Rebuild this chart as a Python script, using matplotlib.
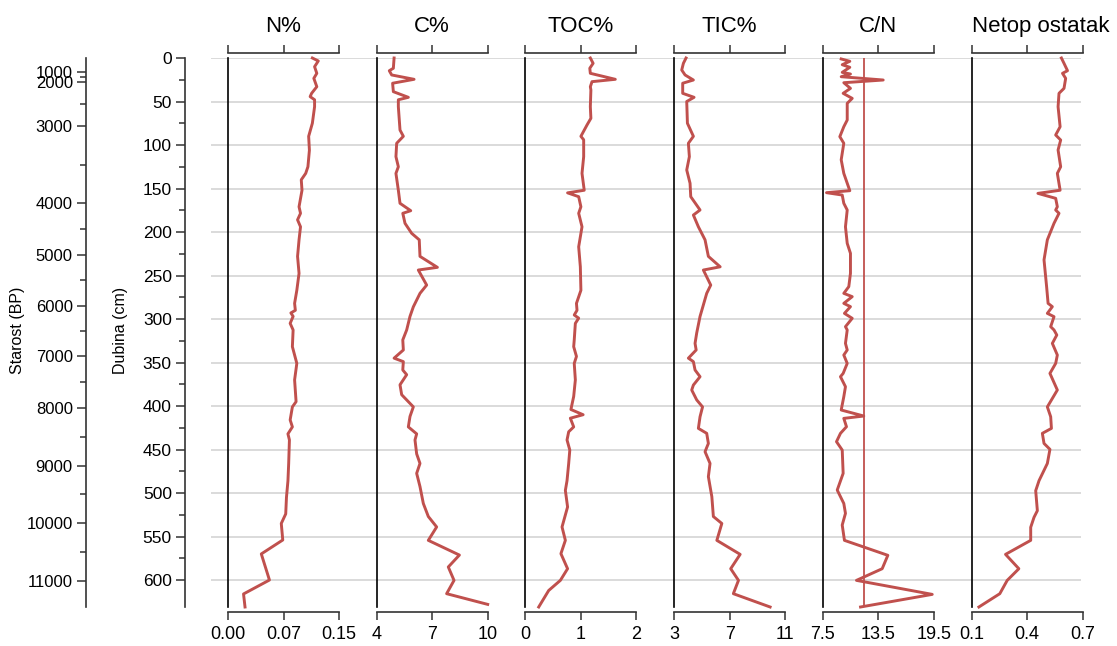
import numpy as np
import matplotlib.pyplot as plt

plt.rcParams['font.family'] = ['Liberation Sans', 'DejaVu Sans']

# ---- data ----
n_depth = [0, 3.4, 10, 17.6, 23.4, 33, 40.6, 44.4, 48, 56, 75, 90, 106, 125, 132.6, 140, 152, 171, 178.5, 186,
           194, 209, 228, 247.5, 267, 282, 290, 293, 297, 305, 312.6, 331.8, 351, 370, 395, 401, 416, 424, 432, 439,
           466, 486, 505, 524, 535, 554, 570, 600, 616, 631]
n_pct = [0.114, 0.122, 0.117, 0.120, 0.116, 0.120, 0.113, 0.111, 0.117, 0.117, 0.114, 0.109, 0.110, 0.108, 0.105,
         0.099, 0.100, 0.096, 0.098, 0.094, 0.098, 0.096, 0.094, 0.096, 0.093, 0.090, 0.091, 0.085, 0.088, 0.084,
         0.088, 0.087, 0.093, 0.090, 0.092, 0.087, 0.084, 0.087, 0.081, 0.083, 0.082, 0.081, 0.079, 0.078, 0.072,
         0.074, 0.045, 0.056, 0.021, 0.023]

c_depth = [0, 11.8, 14.6, 19.5, 24.5, 29, 38.7, 45.2, 48, 56, 82.8, 90, 98, 113.4, 125, 132.6, 152, 167, 175.5, 178.5,
           190, 201.5, 209, 228, 240.6, 243.7, 261, 270.5, 286, 297, 312.6, 324, 335.6, 345, 349, 358.6, 364, 375.6,
           387, 401, 412, 424, 432, 439, 455, 466, 477.4, 492.6, 512, 527, 539, 554.4, 571.3, 585, 600.4, 615.7, 628]
c_pct = [4.94, 4.90, 4.68, 4.81, 6.02, 4.86, 4.90, 5.71, 5.17, 5.17, 5.26, 5.44, 5.08, 5.04, 5.17, 5.04, 5.17, 5.26,
         5.84, 5.41, 5.53, 5.89, 6.30, 6.34, 7.28, 6.25, 6.70, 6.34, 5.98, 5.80, 5.62, 5.41, 5.44, 4.94, 5.44, 5.41,
         5.62, 5.26, 5.35, 5.98, 5.80, 5.71, 6.16, 6.07, 6.16, 6.34, 6.16, 6.34, 6.52, 6.79, 7.24, 6.79, 8.47, 7.87,
         8.18, 7.78, 10.0]

toc_depth = [0, 6.1, 11.8, 17.6, 24.5, 27.2, 33, 36.8, 56, 69.3, 77, 90, 94, 113.4, 132.6, 152, 155, 159.4, 171, 178.5,
             194, 217, 240, 267, 282, 290, 295.4, 299, 305, 324, 331.8, 343, 351, 370, 389, 404, 410, 414, 424, 429.6,
             439, 450.6, 466, 485.8, 497, 516, 539, 554.4, 569.7, 587, 600.4, 612, 631]
toc_pct = [1.17, 1.22, 1.16, 1.17, 1.62, 1.20, 1.17, 1.18, 1.17, 1.18, 1.11, 1.00, 1.05, 1.05, 1.02, 1.06, 0.76, 0.96,
           1.00, 0.96, 1.02, 0.96, 0.99, 1.00, 0.92, 0.93, 0.88, 0.96, 0.90, 0.88, 0.87, 0.92, 0.88, 0.90, 0.87, 0.82,
           1.04, 0.81, 0.87, 0.78, 0.75, 0.80, 0.78, 0.75, 0.72, 0.76, 0.66, 0.72, 0.64, 0.76, 0.63, 0.42, 0.24]

tic_depth = [0, 6.1, 13.8, 19.5, 25.3, 29, 40.6, 45.2, 50, 75, 90, 98, 113.4, 128.7, 144, 159.4, 174.7, 180.5, 194, 209,
             228, 240, 243.7, 261, 270.5, 286, 297, 316, 328, 335.6, 345, 349, 358.6, 366.3, 375.9, 381.6, 393, 401,
             412.3, 425.7, 431.4, 443, 452.5, 466, 481.2, 504.2, 527, 535, 554.4, 570.5, 587, 600.4, 615.7, 631]
tic_pct = [3.86, 3.67, 3.55, 3.79, 4.39, 3.62, 3.62, 4.44, 3.91, 3.96, 4.39, 4.03, 4.10, 3.91, 4.15, 4.20, 4.87, 4.39,
           4.75, 5.23, 5.47, 6.32, 5.11, 5.64, 5.35, 5.07, 4.87, 4.63, 4.51, 4.59, 4.03, 4.39, 4.51, 4.87, 4.39, 4.27,
           4.63, 5.05, 4.87, 4.75, 5.35, 5.47, 5.23, 5.59, 5.47, 5.72, 5.83, 6.44, 6.08, 7.76, 7.08, 7.64, 7.27, 9.92]

cn_depth = [1.1, 3.8, 7.7, 10.7, 16.5, 18.4, 21.5, 25.3, 28.4, 34.9, 40.6, 46.4, 52.1, 71.3, 79, 90.4, 98, 117, 132.6,
            152.5, 154.8, 157.5, 167, 174.7, 194, 213, 224.5, 247.5, 262.8, 270.5, 274.3, 282, 285.8, 293.5, 299.2,
            308.8, 312.6, 328, 335.6, 341.4, 351, 362.5, 366.3, 377.8, 389.3, 404.6, 411.5, 414.2, 423.8, 431.4, 441,
            450.6, 477.4, 496.6, 512, 523.4, 536.8, 554.4, 571.6, 587, 600.4, 616.5, 631]
cn_ratio = [9.49, 10.42, 9.60, 10.42, 9.60, 10.49, 9.49, 14.03, 9.77, 10.49, 9.70, 10.68, 10.14, 10.14, 9.77, 9.34,
            9.77, 9.49, 9.77, 10.42, 7.90, 9.60, 9.77, 10.14, 9.95, 10.14, 10.49, 10.49, 10.31, 9.77, 10.68, 9.77,
            10.49, 9.84, 10.68, 9.95, 10.14, 9.95, 10.14, 9.77, 10.14, 9.70, 9.41, 9.95, 9.77, 9.49, 11.93, 9.77,
            10.06, 9.41, 8.98, 9.60, 9.70, 9.06, 9.77, 9.95, 9.60, 9.84, 14.53, 13.92, 11.14, 19.33, 11.58]
cn_ref = 12.0

res_depth = [0, 6.1, 14.6, 17.6, 23.4, 34.9, 40.6, 56, 79, 88.5, 94.3, 105.7, 125, 132.6, 152, 155.6, 161.3, 171,
             174.7, 178.5, 190, 209, 232, 262.8, 282, 285.8, 293.5, 297.3, 308.8, 312.6, 318.4, 328, 341.4, 351,
             362.5, 381.6, 401, 412.3, 425.7, 431.4, 443, 449.8, 466, 485.8, 497.3, 520.3, 527.9, 539.4, 554.4,
             570.5, 587, 600.4, 615.7, 631]
res_val = [0.586, 0.600, 0.619, 0.592, 0.609, 0.600, 0.573, 0.568, 0.579, 0.555, 0.582, 0.568, 0.582, 0.564, 0.579,
           0.459, 0.555, 0.564, 0.555, 0.573, 0.546, 0.510, 0.492, 0.506, 0.514, 0.537, 0.510, 0.546, 0.528, 0.546,
           0.561, 0.537, 0.564, 0.555, 0.524, 0.564, 0.510, 0.528, 0.532, 0.483, 0.492, 0.524, 0.510, 0.465, 0.447,
           0.456, 0.438, 0.420, 0.420, 0.284, 0.356, 0.293, 0.253, 0.140]

# age-depth model for the Starost axis
age_ticks = [1000, 2000, 3000, 4000, 5000, 6000, 7000, 8000, 9000, 10000, 11000]
age_tick_depth = [16, 28, 78, 167, 226, 285, 343, 402, 469, 534, 601]

panels = [
    ("N%", n_depth, n_pct, (0, 0.15), [0, 0.075, 0.15], ["0.00", "0.07", "0.15"]),
    ("C%", c_depth, c_pct, (4, 10), [4, 7, 10], ["4", "7", "10"]),
    ("TOC%", toc_depth, toc_pct, (0, 2), [0, 1, 2], ["0", "1", "2"]),
    ("TIC%", tic_depth, tic_pct, (3, 11), [3, 7, 11], ["3", "7", "11"]),
    ("C/N", cn_depth, cn_ratio, (7.5, 19.5), [7.5, 13.5, 19.5], ["7.5", "13.5", "19.5"]),
    ("Netop ostatak", res_depth, res_val, (0.1, 0.7), [0.1, 0.4, 0.7], ["0.1", "0.4", "0.7"]),
]

RED = "#c0504d"
DEPTH_MAX = 631
W, H = 1117, 646
top_px, bot_px = 58, 607
y0 = 1 - bot_px / H
h = (bot_px - top_px) / H

fig = plt.figure(figsize=(W / 100, H / 100), dpi=100)

# horizontal grid spanning all panels
bg = fig.add_axes([211 / W, y0, 870 / W, h])
bg.set_ylim(DEPTH_MAX, 0)
bg.set_yticks(np.arange(0, 601, 50))
bg.yaxis.grid(True, color="#d4d4d4", lw=1.2)
bg.tick_params(left=False, labelleft=False, bottom=False, labelbottom=False)
bg.set_xticks([])
for s in bg.spines.values():
    s.set_visible(False)
bg.set_zorder(0)


def side_axis(x_px, labelsize):
    a = fig.add_axes([x_px / W, y0, 0.0005, h])
    a.set_ylim(DEPTH_MAX, 0)
    a.patch.set_visible(False)
    for k in ("right", "top", "bottom"):
        a.spines[k].set_visible(False)
    a.spines["left"].set_linewidth(1.2)
    a.spines["left"].set_color("#333333")
    a.set_xticks([])
    a.tick_params(axis="y", which="major", length=6.5, width=1.1, labelsize=labelsize, pad=3, color="#333333")
    a.tick_params(axis="y", which="minor", length=4.3, width=1.1, color="#333333")
    return a


# depth axis
dax = side_axis(185, 12.5)
dax.set_yticks(np.arange(0, 601, 50))
dax.set_yticks(np.arange(25, 600, 50), minor=True)
fig.text(120 / W, 1 - 330 / H, "Dubina (cm)", rotation=90, ha="center", va="center", fontsize=11.5)

# age axis (non-linear, placed through the age-depth model)
aax = side_axis(86, 12)
aax.set_yticks(age_tick_depth)
aax.set_yticklabels([str(a) for a in age_ticks])
minor_ages = np.arange(1500, 11000, 1000)
aax.set_yticks(np.interp(minor_ages, age_ticks, age_tick_depth), minor=True)
fig.text(18 / W, 1 - 330 / H, "Starost (BP)", rotation=90, ha="center", va="center", fontsize=11.5)

# data panels
for i, (title, depth, vals, lim, ticks, labels) in enumerate(panels):
    ax = fig.add_axes([(228 + i * 148.7) / W, y0, 111 / W, h])
    ax.patch.set_visible(False)
    ax.set_zorder(2)
    ax.plot(vals, depth, color=RED, lw=2.1, clip_on=False)
    if title == "C/N":
        ax.axvline(cn_ref, color=RED, lw=1.3)
    ax.set_xlim(*lim)
    ax.set_ylim(DEPTH_MAX, 0)
    ax.spines["right"].set_visible(False)
    ax.spines["left"].set_color("black")
    ax.spines["left"].set_linewidth(1.2)
    for k in ("top", "bottom"):
        ax.spines[k].set_position(("outward", 3.6))
        ax.spines[k].set_color("#333333")
        ax.spines[k].set_linewidth(1.2)
    ax.set_yticks([])
    ax.set_xticks(ticks)
    ax.set_xticklabels(labels)
    ax.tick_params(axis="x", top=True, bottom=True, labeltop=False, direction="out",
                   length=5.8, width=1.1, labelsize=13, pad=4, color="#333333")
    # long title starts at the panel's left edge, short ones are centred
    long_title = len(title) > 6
    ax.annotate(title, xy=(0.0 if long_title else 0.5, 1), xycoords="axes fraction", xytext=(0, 19),
                textcoords="offset points", ha="left" if long_title else "center", va="baseline", fontsize=16)

fig.savefig("out.png", dpi=100)
